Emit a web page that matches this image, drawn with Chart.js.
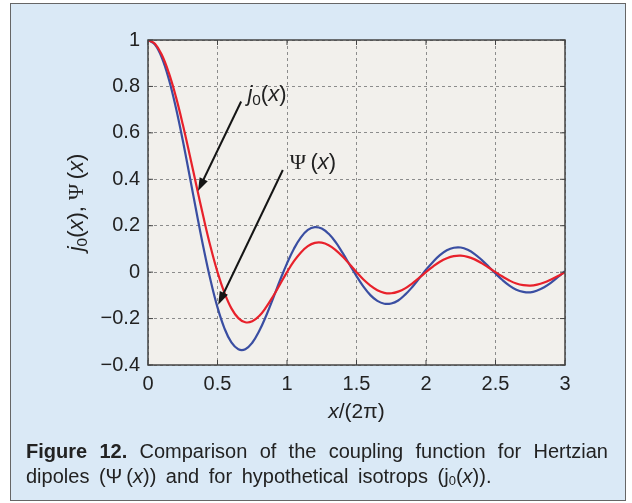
<!DOCTYPE html>
<html>
<head>
<meta charset="utf-8">
<script src="https://cdn.jsdelivr.net/npm/chart.js@4.4.1/dist/chart.umd.min.js"></script>
<style>
  html, body { margin: 0; padding: 0; background: #fff; }
  #box { position: absolute; left: 10px; top: 3px; width: 614px; height: 496px; border: 1.5px solid #666; background: #dae9f6; }
  #wrap { position: absolute; left: 0; top: 0; width: 632px; height: 503px; }
  #caption { position: absolute; left: 26px; top: 439px; width: 582px; font: 20px "Liberation Sans", Arial, sans-serif; color: #222; line-height: 25px; white-space: nowrap; }
  #caption .l1 { text-align: justify; text-align-last: justify; }
  #caption .l2 { word-spacing: 4px; }
  #caption sub { font-size: 13px; vertical-align: -2px; line-height: 0; }
</style>
</head>
<body>
<div id="box"></div>
<div id="wrap"><canvas id="coupling" width="632" height="503"></canvas></div>
<div id="caption">
  <div class="l1"><b>Figure 12.</b> Comparison of the coupling function for Hertzian</div>
  <div class="l2">dipoles (&Psi;&thinsp;(<i>x</i>)) and for hypothetical isotrops (j<sub>0</sub>(<i>x</i>)).</div>
</div>
<script>
// x / (2*pi)
const xs = [
  0.00, 0.05, 0.10, 0.15, 0.20, 0.25, 0.30, 0.35, 0.40, 0.45, 0.50,
  0.55, 0.60, 0.65, 0.70, 0.75, 0.80, 0.85, 0.90, 0.95, 1.00,
  1.05, 1.10, 1.15, 1.20, 1.25, 1.30, 1.35, 1.40, 1.45, 1.50,
  1.55, 1.60, 1.65, 1.70, 1.75, 1.80, 1.85, 1.90, 1.95, 2.00,
  2.05, 2.10, 2.15, 2.20, 2.25, 2.30, 2.35, 2.40, 2.45, 2.50,
  2.55, 2.60, 2.65, 2.70, 2.75, 2.80, 2.85, 2.90, 2.95, 3.00
];
// isotrops j0(x)
const j0Values = [
  1.000, 0.984, 0.935, 0.858, 0.757, 0.637, 0.505, 0.368, 0.234, 0.109, 0.000,
  -0.089, -0.156, -0.198, -0.216, -0.212, -0.189, -0.151, -0.104, -0.052, 0.000,
  0.047, 0.085, 0.112, 0.126, 0.127, 0.116, 0.095, 0.067, 0.034, 0.000,
  -0.032, -0.058, -0.078, -0.089, -0.091, -0.084, -0.070, -0.049, -0.025, 0.000,
  0.024, 0.045, 0.060, 0.069, 0.071, 0.066, 0.055, 0.039, 0.020, 0.000,
  -0.019, -0.036, -0.049, -0.056, -0.058, -0.054, -0.045, -0.032, -0.017, 0.000
];
// Hertzian dipoles Psi(x)
const psiValues = [
  1.000, 0.980, 0.923, 0.831, 0.710, 0.568, 0.413, 0.255, 0.103, -0.035, -0.152,
  -0.242, -0.303, -0.332, -0.332, -0.304, -0.254, -0.188, -0.113, -0.035, 0.038,
  0.101, 0.150, 0.182, 0.194, 0.188, 0.165, 0.129, 0.083, 0.033, -0.017,
  -0.062, -0.099, -0.124, -0.136, -0.135, -0.122, -0.097, -0.065, -0.028, 0.010,
  0.044, 0.073, 0.094, 0.105, 0.106, 0.096, 0.078, 0.053, 0.024, -0.006,
  -0.034, -0.058, -0.076, -0.085, -0.087, -0.079, -0.065, -0.045, -0.021, 0.004
];
const xTicks = [0, 0.5, 1, 1.5, 2, 2.5, 3];
const yTicks = [-0.4, -0.2, 0, 0.2, 0.4, 0.6, 0.8, 1];

// annotation arrows, in data units: [from x, from y, to x, to y]
const j0Arrow = [0.67, 0.735, 0.36, 0.35];
const psiArrow = [0.97, 0.44, 0.505, -0.14];
const j0LabelAt = [0.715, 0.765];
const psiLabelAt = [1.02, 0.47];

const SANS = '"Liberation Sans", Arial, sans-serif';
const SERIF = '"Liberation Serif", "Times New Roman", serif';

function drawRich(ctx, runs, x, y, size, align) {
  const parts = runs.map(r => {
    const s = r.sub ? size * 0.7 : size;
    const font = (r.it ? 'italic ' : '') + s + 'px ' + (r.serif ? SERIF : SANS);
    ctx.font = font;
    return { t: r.t, font, w: ctx.measureText(r.t).width, dy: r.sub ? size * 0.28 : 0 };
  });
  const total = parts.reduce((a, p) => a + p.w, 0);
  let cx = align === 'center' ? x - total / 2 : x;
  ctx.textBaseline = 'middle';
  ctx.textAlign = 'left';
  ctx.fillStyle = '#222';
  parts.forEach(p => {
    ctx.font = p.font;
    ctx.fillText(p.t, cx, y + p.dy);
    cx += p.w;
  });
}

function arrow(ctx, x1, y1, x2, y2) {
  const a = Math.atan2(y2 - y1, x2 - x1);
  const L = 13, W = 4.5;
  ctx.strokeStyle = '#151515';
  ctx.fillStyle = '#151515';
  ctx.lineWidth = 2;
  ctx.beginPath();
  ctx.moveTo(x1, y1);
  ctx.lineTo(x2 - L * 0.8 * Math.cos(a), y2 - L * 0.8 * Math.sin(a));
  ctx.stroke();
  ctx.beginPath();
  ctx.moveTo(x2, y2);
  ctx.lineTo(x2 - L * Math.cos(a) + W * Math.sin(a), y2 - L * Math.sin(a) - W * Math.cos(a));
  ctx.lineTo(x2 - L * Math.cos(a) - W * Math.sin(a), y2 - L * Math.sin(a) + W * Math.cos(a));
  ctx.closePath();
  ctx.fill();
}

const j0Runs = [{ t: 'j', it: true }, { t: '0', sub: true }, { t: '(' }, { t: 'x', it: true }, { t: ')' }];
const psiRuns = [{ t: '\u03A8', serif: true }, { t: '\u2009(' }, { t: 'x', it: true }, { t: ')' }];

const figurePlugin = {
  id: 'figure',
  beforeDatasetsDraw(chart) {
    const { ctx, chartArea: a } = chart;
    ctx.save();
    ctx.globalCompositeOperation = 'destination-over';
    ctx.fillStyle = '#f2f0ec';
    ctx.fillRect(a.left, a.top, a.right - a.left, a.bottom - a.top);
    ctx.restore();
  },
  afterDatasetsDraw(chart) {
    const { ctx, chartArea: a, scales: { x, y } } = chart;
    ctx.save();
    // inward ticks
    ctx.strokeStyle = '#444';
    ctx.lineWidth = 1;
    ctx.beginPath();
    xTicks.forEach(v => {
      const px = x.getPixelForValue(v);
      ctx.moveTo(px, a.bottom); ctx.lineTo(px, a.bottom - 5);
      ctx.moveTo(px, a.top); ctx.lineTo(px, a.top + 5);
    });
    yTicks.forEach(v => {
      const py = y.getPixelForValue(v);
      ctx.moveTo(a.left, py); ctx.lineTo(a.left + 5, py);
      ctx.moveTo(a.right, py); ctx.lineTo(a.right - 5, py);
    });
    ctx.stroke();
    // frame
    ctx.strokeStyle = '#444';
    ctx.lineWidth = 1.5;
    ctx.strokeRect(a.left, a.top, a.right - a.left, a.bottom - a.top);

    // arrows and labels
    arrow(ctx, x.getPixelForValue(j0Arrow[0]), y.getPixelForValue(j0Arrow[1]),
      x.getPixelForValue(j0Arrow[2]), y.getPixelForValue(j0Arrow[3]));
    arrow(ctx, x.getPixelForValue(psiArrow[0]), y.getPixelForValue(psiArrow[1]),
      x.getPixelForValue(psiArrow[2]), y.getPixelForValue(psiArrow[3]));
    drawRich(ctx, j0Runs, x.getPixelForValue(j0LabelAt[0]), y.getPixelForValue(j0LabelAt[1]), 22, 'left');
    drawRich(ctx, psiRuns, x.getPixelForValue(psiLabelAt[0]), y.getPixelForValue(psiLabelAt[1]), 22, 'left');

    // axis titles
    drawRich(ctx, [{ t: 'x', it: true }, { t: '/(2\u03C0)' }], (a.left + a.right) / 2, a.bottom + 47, 21, 'center');
    ctx.translate(a.left - 71, (a.top + a.bottom) / 2);
    ctx.rotate(-Math.PI / 2);
    drawRich(ctx, j0Runs.concat([{ t: ', ' }], psiRuns), 0, 0, 22, 'center');
    ctx.restore();
  }
};

const fmt = v => {
  const n = Number(Number(v).toFixed(1));
  return n < 0 ? '\u2212' + Math.abs(n) : String(n);
};

new Chart(document.getElementById('coupling'), {
  type: 'line',
  data: {
    datasets: [
      {
        label: 'j0(x)',
        data: xs.map((v, i) => ({ x: v, y: j0Values[i] })),
        borderColor: '#e8212b',
        borderWidth: 2.2,
        pointRadius: 0,
        tension: 0.4,
        fill: false
      },
      {
        label: 'Psi(x)',
        data: xs.map((v, i) => ({ x: v, y: psiValues[i] })),
        borderColor: '#3a4ea2',
        borderWidth: 2.2,
        pointRadius: 0,
        tension: 0.4,
        fill: false
      }
    ]
  },
  options: {
    responsive: false,
    animation: false,
    events: [],
    layout: { padding: { left: 0, right: 67, top: 40, bottom: 78 } },
    plugins: { legend: { display: false }, tooltip: { enabled: false } },
    scales: {
      x: {
        type: 'linear',
        min: 0,
        max: 3,
        afterFit: s => { s.height = 60; },
        afterBuildTicks: s => { s.ticks = xTicks.map(v => ({ value: v })); },
        ticks: { padding: 7, color: '#222', font: { family: SANS, size: 20 }, callback: fmt, maxRotation: 0 },
        grid: { color: '#8c8c8c', lineWidth: 1, drawTicks: false },
        border: { display: false, dash: [3, 3] }
      },
      y: {
        type: 'linear',
        min: -0.4,
        max: 1,
        afterFit: s => { s.width = 148; },
        afterBuildTicks: s => { s.ticks = yTicks.map(v => ({ value: v })); },
        ticks: { padding: 8, color: '#222', font: { family: SANS, size: 20 }, callback: fmt },
        grid: { color: '#8c8c8c', lineWidth: 1, drawTicks: false },
        border: { display: false, dash: [3, 3] }
      }
    }
  },
  plugins: [figurePlugin]
});
</script>
</body>
</html>
